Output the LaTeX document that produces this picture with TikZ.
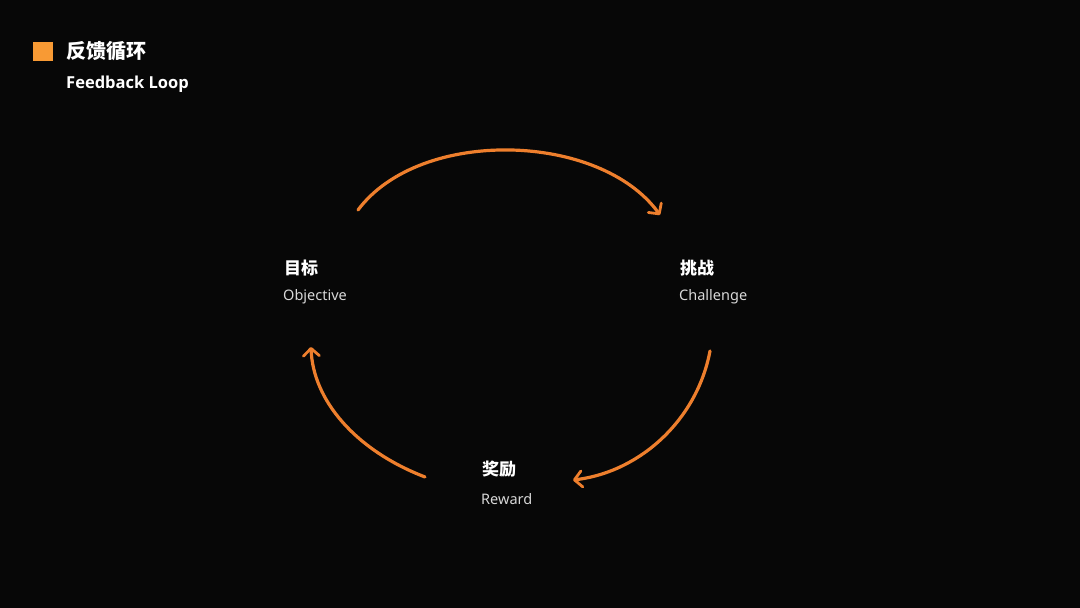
\documentclass[tikz,border=0pt]{standalone}
\usepackage{fontspec}
\setmainfont{Noto Sans CJK SC}
\newfontfamily\latinf{Noto Sans}
\newfontfamily\latinb{Open Sans}
\usetikzlibrary{arrows.meta}
\definecolor{bg}{HTML}{070707}
\definecolor{sq}{HTML}{F89A34}
\definecolor{arr}{HTML}{EE7F2D}
\definecolor{sub}{HTML}{D8D8D8}
\tikzset{
  loop/.style={draw=arr, line width=3.2pt, line cap=round, -{Straight Barb[length=7.5pt,width=16pt,line width=2.8pt,round]}},
  cn/.style={anchor=west, inner sep=0pt, text=white, font=\fontsize{17}{19}\selectfont\bfseries},
  en/.style={anchor=west, inner sep=0pt, text=sub, font=\latinf\fontsize{14.5}{16}\selectfont},
}
\begin{document}
\begin{tikzpicture}[x=1pt,y=-1pt]
\fill[bg] (0,0) rectangle (1080,608);
\useasboundingbox (0,0) rectangle (1080,608);
\fill[sq] (33,42) rectangle (53,61);
\node[cn, font=\fontsize{20}{22}\selectfont\bfseries] (title) at (66,51) {反馈循环};
\node[cn, font=\latinb\fontsize{16.5}{18}\selectfont\bfseries] (sub) at (66,84) {Feedback Loop};
\node[cn] (obj) at (284,268) {目标};
\node[en] (obje) at (283,297) {Objective};
\node[cn] (cha) at (680,268) {挑战};
\node[en] (chae) at (679,297) {Challenge};
\node[cn] (rew) at (482,469) {奖励};
\node[en] (rewe) at (481,499) {Reward};
\coordinate (a1) at (358,210);
\coordinate (a2) at (660,215);
\coordinate (b1) at (710,351);
\coordinate (b2) at (573,480);
\coordinate (c1) at (425,477);
\coordinate (c2) at (311,347);
\draw[loop] (a1) .. controls (420,127) and (600,132) .. (a2);
\draw[loop] (b1) .. controls (697,420) and (640,472) .. (b2);
\draw[loop] (c1) .. controls (355,450) and (313,400) .. (c2);
\end{tikzpicture}
\end{document}
